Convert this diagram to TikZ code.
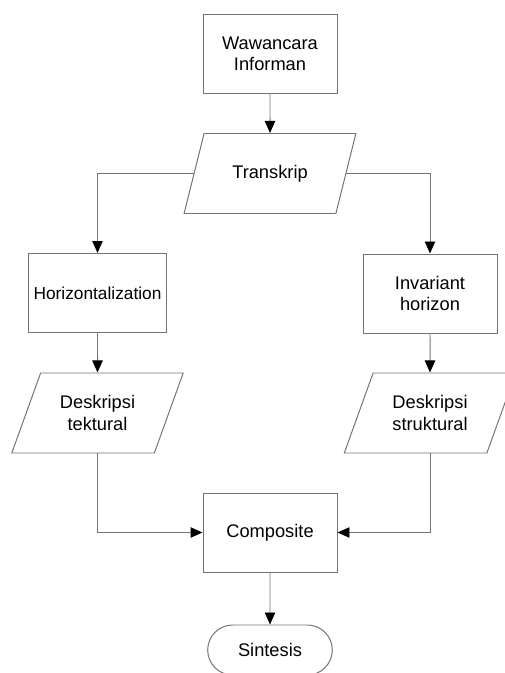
\documentclass[tikz,border=0pt]{standalone}
\usepackage{fontspec}
\setmainfont{Liberation Sans}
\usetikzlibrary{shapes.geometric,shapes.misc,arrows.meta}

\begin{document}
\begin{tikzpicture}[
    >={Triangle[length=3mm,width=2.6mm,color=black]},
    line/.style={draw=black!55, line width=0.7pt},
    box/.style={shape=rectangle, line, minimum width=3.35cm, minimum height=1.975cm, align=center, font=\fontsize{13}{15}\selectfont},
    data/.style={shape=trapezium, trapezium left angle=64, trapezium right angle=116, trapezium stretches=true, line, minimum width=4.3cm, minimum height=2cm, align=center, font=\fontsize{13}{15}\selectfont},
    term/.style={shape=rounded rectangle, line, minimum width=3.35cm, minimum height=1.25cm, font=\fontsize{13}{15}\selectfont}
  ]
			\useasboundingbox (0,0) rectangle (12.625,16.825);
			
			\node[box] (wi) at (6.75,15.475) {Wawancara\\Informan};
			\node[data] (tr) at (6.75,12.4875) {Transkrip};
			\node[box, font=\fontsize{12.3}{15}\selectfont] (hz) at (2.4375,9.5) {Horizontalization};
			\node[box] (ih) at (10.75,9.4875) {Invariant\\horizon};
			\node[data] (dt) at (2.4375,6.5) {Deskripsi\\tektural};
			\node[data] (ds) at (10.75,6.5) {Deskripsi\\struktural};
			\node[box] (cp) at (6.75,3.5125) {Composite};
			\node[term] (si) at (6.75,0.575) {Sintesis};
			
			\path [->, line] (wi) edge (tr);
			\draw [->, line] (tr.west) -| (hz.north);
			\draw [->, line] (tr.east) -| (ih.north);
			\path [->, line] (hz) edge (dt);
			\path [->, line] (ih) edge (ds);
			\draw [->, line] (dt.south) |- (cp.west);
			\draw [->, line] (ds.south) |- (cp.east);
			\path [->, line] (cp) edge (si);
		\end{tikzpicture}
\end{document}
